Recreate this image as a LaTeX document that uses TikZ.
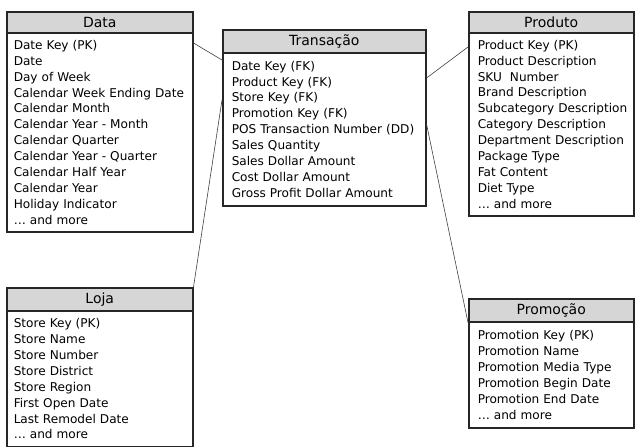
\documentclass[tikz,border=0pt]{standalone}
\usepackage{fontspec}
\setmainfont{DejaVu Sans}
\usetikzlibrary{calc}

\begin{document}
\begin{tikzpicture}[x=1pt, y=-1pt,
    header/.style = {rectangle, draw=black!85, line width=1.5pt, fill=black!16, anchor=north west,
                     inner sep=0pt, minimum width=#1, font=\fontsize{14pt}{15pt}\selectfont},
    fields/.style = {rectangle, draw=black!85, line width=1.5pt, anchor=north west, align=left,
                     inner xsep=7pt, text width=#1-14pt, font=\fontsize{12.1pt}{15.9pt}\selectfont},
    link/.style = {draw=black!75, line width=0.6pt}]
  \useasboundingbox (0, 0) rectangle (635, 447);

  % Tables.
  \node at (6, 11) [header=186pt, minimum height=21pt, name=DataHeader] {Data};
  \node at (6, 32) [fields=186pt, minimum height=199pt, name=DataFields]
    {Date Key (PK)\\Date\\Day of Week\\Calendar Week Ending Date\\Calendar Month\\
     Calendar Year - Month\\Calendar Quarter\\Calendar Year - Quarter\\Calendar Half Year\\
     Calendar Year\\Holiday Indicator\\\dots\ and more};

  \node at (222, 29) [header=203pt, minimum height=23pt, name=TransHeader] {Transação};
  \node at (222, 52) [fields=203pt, minimum height=153pt, inner xsep=9pt, text width=185pt, name=TransFields]
    {Date Key (FK)\\Product Key (FK)\\Store Key (FK)\\Promotion Key (FK)\\
     POS Transaction Number (DD)\\Sales Quantity\\Sales Dollar Amount\\Cost Dollar Amount\\
     Gross Profit Dollar Amount};

  \node at (468, 11) [header=165pt, minimum height=21pt, name=ProdHeader] {Produto};
  \node at (468, 32) [fields=165pt, minimum height=183pt, inner xsep=9pt, text width=147pt, name=ProdFields]
    {Product Key (PK)\\Product Description\\SKU\ \ Number\\Brand Description\\
     \mbox{Subcategory Description}\\Category Description\\Department Description\\Package Type\\
     Fat Content\\Diet Type\\\dots\ and more};

  \node at (6, 287) [header=186pt, minimum height=23pt, name=LojaHeader] {Loja};
  \node at (6, 310) [fields=186pt, minimum height=136pt, name=LojaFields]
    {Store Key (PK)\\Store Name\\Store Number\\Store District\\Store Region\\
     First Open Date\\Last Remodel Date\\\dots\ and more};

  \node at (468, 298) [header=165pt, minimum height=23pt, name=PromoHeader] {Promoção};
  \node at (468, 321) [fields=165pt, minimum height=106pt, inner xsep=9pt, text width=147pt, name=PromoFields]
    {Promotion Key (PK)\\Promotion Name\\Promotion Media Type\\Promotion Begin Date\\
     Promotion End Date\\\dots\ and more};

  % Links.
  \draw [link] ($(DataFields.north east)+(0, 11)$) -- ($(TransFields.north west)+(0, 8)$);
  \draw [link] (LojaHeader.north east) -- ($(TransFields.north west)+(0, 48)$);
  \draw [link] ($(TransFields.north east)+(0, 26)$) -- ($(ProdFields.north west)+(0, 15)$);
  \draw [link] ($(TransFields.north east)+(0, 72)$) -- (PromoHeader.south west);
\end{tikzpicture}
\end{document}
